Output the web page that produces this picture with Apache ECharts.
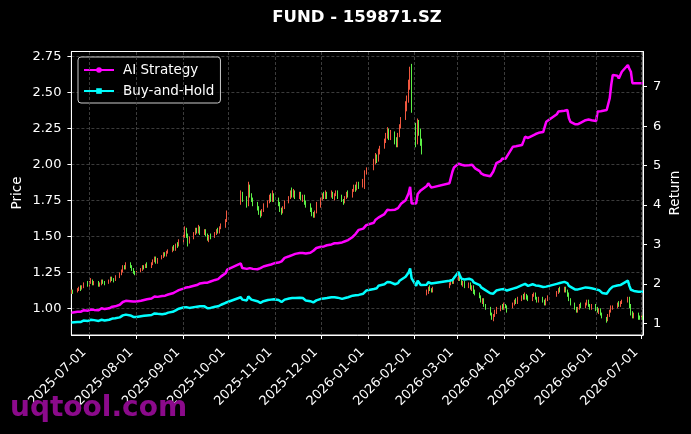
<!DOCTYPE html>
<html><head><meta charset="utf-8">
<script src="https://cdn.jsdelivr.net/npm/echarts@6/dist/echarts.min.js"></script>
<style>html,body{margin:0;padding:0;background:#000}#c{width:691px;height:434px}</style>
</head><body><div id="c"></div>
<script>
// ---------- data ----------
const startDate = '2025-06-19';
const endDate = '2026-07-02';
const holidays = ['2025-10-01','2025-10-02','2025-10-03','2025-10-06','2025-10-07','2025-10-08',
  '2026-01-01','2026-01-02','2026-02-16','2026-02-17','2026-02-18','2026-02-19','2026-02-20','2026-02-23',
  '2026-04-06','2026-05-01','2026-05-04','2026-05-05','2026-06-19'];
const monthTicks = ['2025-07-01','2025-08-01','2025-09-01','2025-10-01','2025-11-01','2025-12-01',
  '2026-01-01','2026-02-01','2026-03-01','2026-04-01','2026-05-01','2026-06-01','2026-07-01'];
const priceTicks = [1.00,1.25,1.50,1.75,2.00,2.25,2.50,2.75];
const returnTicks = [1,2,3,4,5,6,7];

// [open, close, low, high]
const candles = [
 [1.11,1.12,1.10,1.13],[1.12,1.11,1.10,1.13],[1.11,1.13,1.11,1.14],[1.13,1.14,1.12,1.15],[1.14,1.13,1.12,1.16],[1.13,1.15,1.13,1.16],[1.15,1.17,1.14,1.18],[1.17,1.16,1.15,1.19],
 [1.16,1.18,1.15,1.19],[1.18,1.19,1.17,1.21],[1.19,1.17,1.16,1.20],[1.17,1.18,1.16,1.19],
 [1.18,1.16,1.15,1.19],[1.16,1.17,1.15,1.18],[1.17,1.19,1.16,1.20],[1.19,1.18,1.17,1.20],[1.18,1.17,1.16,1.19],
 [1.17,1.19,1.17,1.20],[1.19,1.21,1.18,1.22],[1.21,1.20,1.19,1.22],[1.20,1.19,1.18,1.21],[1.19,1.21,1.19,1.23],
 [1.21,1.24,1.21,1.25],[1.24,1.26,1.23,1.27],[1.26,1.29,1.25,1.30],[1.29,1.28,1.27,1.30],[1.28,1.31,1.27,1.32],
 [1.31,1.29,1.28,1.32],[1.29,1.27,1.26,1.30],[1.27,1.25,1.24,1.28],[1.25,1.24,1.23,1.26],
 [1.24,1.25,1.23,1.26],
 [1.25,1.27,1.25,1.28],[1.27,1.29,1.26,1.30],[1.29,1.28,1.27,1.30],[1.28,1.30,1.28,1.31],[1.30,1.29,1.28,1.32],
 [1.29,1.31,1.28,1.32],[1.31,1.33,1.30,1.34],[1.33,1.35,1.32,1.36],[1.35,1.32,1.31,1.36],[1.32,1.34,1.31,1.35],
 [1.34,1.36,1.34,1.37],[1.36,1.38,1.35,1.39],[1.38,1.37,1.36,1.39],[1.37,1.39,1.36,1.40],[1.39,1.40,1.38,1.41],
 [1.40,1.42,1.39,1.43],[1.42,1.41,1.40,1.44],[1.41,1.44,1.40,1.45],[1.44,1.43,1.42,1.46],[1.43,1.46,1.43,1.48],
 [1.46,1.50,1.45,1.51],[1.50,1.55,1.49,1.57],[1.55,1.51,1.49,1.56],[1.51,1.46,1.43,1.52],[1.46,1.49,1.45,1.50],
 [1.49,1.52,1.48,1.53],[1.52,1.55,1.51,1.56],[1.55,1.53,1.52,1.56],[1.53,1.56,1.52,1.58],[1.56,1.52,1.51,1.57],
 [1.52,1.54,1.51,1.55],[1.54,1.51,1.50,1.55],[1.51,1.48,1.47,1.52],[1.48,1.50,1.46,1.51],[1.50,1.49,1.48,1.52],
 [1.49,1.52,1.49,1.53],[1.52,1.54,1.51,1.55],[1.54,1.53,1.52,1.56],[1.53,1.56,1.52,1.57],[1.56,1.57,1.55,1.59],
 [1.57,1.61,1.56,1.62],[1.61,1.66,1.60,1.68],
 [1.74,1.80,1.72,1.82],[1.80,1.76,1.74,1.81],
 [1.75,1.72,1.70,1.78],[1.72,1.85,1.71,1.88],[1.85,1.79,1.77,1.86],[1.79,1.76,1.74,1.80],[1.76,1.74,1.71,1.77],
 [1.74,1.70,1.68,1.74],[1.70,1.67,1.65,1.71],[1.67,1.65,1.63,1.68],[1.65,1.68,1.64,1.69],[1.68,1.70,1.67,1.73],
 [1.70,1.74,1.70,1.75],[1.74,1.77,1.73,1.79],[1.77,1.75,1.74,1.80],[1.75,1.79,1.74,1.82],[1.79,1.76,1.74,1.80],
 [1.76,1.73,1.71,1.77],[1.73,1.69,1.67,1.74],[1.69,1.66,1.65,1.70],[1.66,1.70,1.66,1.71],[1.70,1.73,1.69,1.75],
 [1.73,1.77,1.73,1.78],[1.77,1.80,1.76,1.82],[1.80,1.78,1.77,1.84],[1.78,1.81,1.77,1.83],[1.81,1.78,1.76,1.82],
 [1.78,1.80,1.76,1.81],[1.80,1.76,1.75,1.81],[1.76,1.78,1.74,1.79],[1.78,1.74,1.72,1.79],[1.74,1.72,1.70,1.75],
 [1.72,1.69,1.67,1.73],[1.69,1.66,1.64,1.70],[1.66,1.64,1.63,1.67],[1.64,1.67,1.63,1.68],[1.67,1.71,1.66,1.74],
 [1.71,1.76,1.70,1.77],[1.76,1.79,1.75,1.80],[1.79,1.77,1.76,1.81],[1.77,1.80,1.76,1.82],[1.80,1.78,1.76,1.81],
 [1.78,1.80,1.77,1.82],[1.80,1.77,1.76,1.81],[1.77,1.79,1.75,1.80],[1.79,1.81,1.78,1.82],[1.81,1.78,1.76,1.82],
 [1.78,1.75,1.74,1.79],[1.75,1.73,1.72,1.76],[1.73,1.77,1.73,1.78],[1.77,1.80,1.76,1.81],[1.80,1.78,1.77,1.82],
 [1.78,1.82,1.77,1.83],[1.82,1.84,1.81,1.86],[1.84,1.83,1.81,1.86],[1.83,1.86,1.82,1.88],[1.86,1.85,1.83,1.88],
 [1.85,1.88,1.84,1.90],[1.86,1.95,1.83,1.96],[1.95,1.97,1.93,1.98],
 [1.97,2.02,1.96,2.04],[2.02,2.06,2.00,2.08],[2.06,2.03,2.01,2.07],[2.03,2.09,2.02,2.11],[2.09,2.12,2.07,2.13],
 [2.12,2.16,2.11,2.18],[2.16,2.20,2.15,2.22],[2.20,2.24,2.18,2.26],[2.24,2.19,2.17,2.25],[2.19,2.22,2.17,2.24],
 [2.22,2.17,2.14,2.23],[2.17,2.13,2.12,2.19],[2.13,2.20,2.12,2.22],[2.20,2.27,2.19,2.28],[2.27,2.31,2.25,2.33],
 [2.33,2.42,2.31,2.44],[2.40,2.46,2.37,2.48],[2.46,2.55,2.43,2.59],[2.55,2.64,2.52,2.68],[2.66,2.38,2.36,2.70],
 [2.27,2.14,2.12,2.29],[2.15,2.29,2.14,2.32],[2.29,2.24,2.20,2.31],[2.24,2.16,2.13,2.25],[2.16,2.09,2.07,2.18],
 [1.10,1.11,1.09,1.13],[1.11,1.14,1.10,1.15],[1.14,1.13,1.12,1.16],[1.13,1.12,1.11,1.14],[1.12,1.14,1.11,1.15],
 [1.15,1.17,1.14,1.18],[1.17,1.19,1.16,1.20],[1.19,1.18,1.17,1.21],[1.18,1.20,1.17,1.22],
 [1.20,1.23,1.19,1.24],[1.23,1.20,1.19,1.24],[1.20,1.17,1.16,1.21],[1.17,1.18,1.15,1.19],[1.18,1.16,1.14,1.19],
 [1.16,1.17,1.14,1.18],[1.17,1.14,1.13,1.18],[1.14,1.15,1.12,1.16],[1.15,1.12,1.10,1.16],[1.12,1.11,1.09,1.13],
 [1.11,1.08,1.07,1.11],[1.08,1.05,1.04,1.09],[1.05,1.06,1.03,1.07],[1.06,1.02,1.01,1.07],[1.02,1.00,0.99,1.03],
 [1.00,0.96,0.95,1.01],[0.96,0.93,0.92,0.97],[0.93,0.95,0.91,0.96],[0.95,0.97,0.94,0.99],[0.97,0.99,0.96,1.01],
 [0.99,1.01,0.98,1.02],[1.01,1.00,0.99,1.03],
 [1.00,1.02,0.99,1.04],[1.02,1.01,1.00,1.03],[1.01,0.99,0.97,1.02],
 [1.00,1.03,1.00,1.04],[1.03,1.05,1.02,1.06],[1.05,1.04,1.03,1.07],[1.04,1.06,1.03,1.08],
 [1.06,1.08,1.05,1.09],[1.08,1.07,1.06,1.10],[1.07,1.09,1.06,1.11],[1.09,1.08,1.06,1.10],[1.08,1.06,1.05,1.09],
 [1.06,1.09,1.05,1.10],[1.09,1.10,1.08,1.11],[1.10,1.07,1.06,1.11],[1.07,1.05,1.04,1.08],[1.05,1.07,1.04,1.08],
 [1.07,1.05,1.04,1.08],[1.05,1.03,1.02,1.06],[1.03,1.06,1.02,1.07],[1.06,1.08,1.05,1.09],
 [1.09,1.11,1.08,1.12],[1.11,1.13,1.10,1.14],[1.13,1.12,1.11,1.15],
 [1.12,1.14,1.11,1.15],[1.14,1.12,1.11,1.15],[1.12,1.10,1.08,1.13],[1.10,1.06,1.05,1.11],[1.06,1.03,1.02,1.07],
 [1.03,1.00,0.99,1.04],[1.00,0.98,0.97,1.01],[0.98,1.00,0.97,1.01],[1.00,1.02,0.99,1.03],[1.02,1.01,1.00,1.04],
 [1.01,1.03,1.00,1.04],[1.03,1.05,1.02,1.06],[1.05,1.02,1.01,1.06],[1.02,1.00,0.99,1.03],[1.00,1.02,0.99,1.03],
 [1.02,1.00,0.98,1.03],[1.00,0.98,0.97,1.01],[0.98,0.99,0.96,1.00],[0.99,0.96,0.95,1.00],[0.96,0.94,0.93,0.97],
 [0.93,0.92,0.90,0.94],[0.92,0.95,0.91,0.96],[0.95,0.98,0.94,0.99],[0.98,1.00,0.97,1.02],[1.00,1.01,0.99,1.02],
 [1.01,1.03,1.00,1.04],[1.03,1.02,1.01,1.05],[1.02,1.04,1.01,1.05],[1.04,1.05,1.03,1.06],
 [1.05,1.07,1.04,1.08],[1.07,1.02,1.00,1.08],[1.02,0.97,0.95,1.03],[0.97,0.95,0.93,0.98],[0.95,0.96,0.93,0.97],
 [0.96,0.94,0.92,0.97],[0.94,0.93,0.92,0.95],
 [0.93,0.94,0.92,0.95],[0.94,0.93,0.92,0.95]
];

const aiStrategy = [
 1.27,1.27,1.29,1.30,1.29,1.31,1.33,1.32,
 1.34,1.35,1.33,1.34, 1.33,1.35,1.38,1.37,1.36, 1.38,1.41,1.42,1.41,1.43, 1.47,1.50,1.54,1.53,1.57, 1.56,1.55,1.55,1.55,
 1.55, 1.57,1.60,1.59,1.62,1.61, 1.63,1.65,1.68,1.65,1.67, 1.69,1.71,1.70,1.72,1.73, 1.76,1.75,1.80,1.79,1.84,
 1.88,1.93,1.91,1.90,1.92, 1.95,1.98,1.97,2.00,2.01, 2.03,2.03,2.03,2.05,2.06, 2.10,2.13,2.12,2.17,2.19, 2.27,2.36,
 2.52,2.40, 2.38,2.42,2.40,2.39,2.38, 2.37,2.38,2.40,2.42,2.44, 2.47,2.50,2.49,2.53,2.52,
 2.54,2.55,2.57,2.62,2.66, 2.70,2.74,2.73,2.78,2.76, 2.78,2.76,2.78,2.77,2.77, 2.79,2.82,2.84,2.87,2.91,
 2.94,2.97,2.95,2.99,2.98, 3.00,2.99,3.03,3.05,3.03, 3.05,3.05,3.08,3.12,3.11, 3.19,3.24,3.27,3.32,3.37, 3.40,3.45,3.49,
 3.55,3.62,3.60,3.68,3.72, 3.77,3.82,3.88,3.85,3.87, 3.88,3.90,3.92,3.97,4.03, 4.12,4.16,4.30,4.46,4.04,
 4.04,4.28,4.32,4.37,4.42, 4.48,4.55,4.50,4.44,4.46, 4.55,4.70,4.85,4.95,
 5.05,5.04,5.02,5.03,5.00, 5.01,4.99,5.02,4.97,4.93, 4.86,4.80,4.78,4.76,4.74, 4.73,4.72,4.85,4.95,5.06, 5.12,5.18,
 5.18,5.17,5.18, 5.48,5.50,5.49,5.52, 5.52,5.62,5.73,5.71,5.70, 5.76,5.79,5.80,5.82,5.83, 5.85,5.86,6.11,6.15,
 6.30,6.37,6.38, 6.39,6.40,6.41,6.20,6.11, 6.05,6.03,6.05,6.10,6.09, 6.15,6.20,6.17,6.13,6.15,
 6.13,6.37,6.38,6.38,6.39, 6.41,6.45,6.71,7.05,7.30, 7.28,7.21,7.25,7.38, 7.55,7.45,7.38,7.09,7.09, 7.09,7.09,
 7.09,7.09
];

const buyHold = [
 1.02,1.01,1.03,1.04,1.03,1.05,1.07,1.06,
 1.08,1.09,1.07,1.08, 1.06,1.07,1.09,1.08,1.07, 1.09,1.11,1.12,1.11,1.13, 1.15,1.17,1.20,1.19,1.22, 1.20,1.18,1.16,1.15,
 1.16, 1.18,1.20,1.19,1.21,1.20, 1.21,1.23,1.25,1.22,1.24, 1.23,1.25,1.24,1.25,1.27, 1.29,1.28,1.33,1.34,1.37,
 1.40,1.44,1.41,1.36,1.39, 1.41,1.44,1.42,1.45,1.43, 1.43,1.41,1.38,1.40,1.39, 1.42,1.44,1.43,1.46,1.47, 1.52,1.57,
 1.66,1.60, 1.58,1.68,1.63,1.60,1.59, 1.56,1.53,1.52,1.54,1.56, 1.59,1.62,1.60,1.64,1.61,
 1.59,1.56,1.54,1.57,1.60, 1.63,1.66,1.64,1.66,1.64, 1.65,1.62,1.64,1.60,1.58, 1.56,1.54,1.53,1.55,1.58,
 1.62,1.65,1.63,1.66,1.64, 1.66,1.64,1.66,1.68,1.65, 1.62,1.60,1.64,1.67,1.66, 1.70,1.72,1.71,1.73,1.72, 1.75,1.80,1.83,
 1.87,1.91,1.89,1.95,1.97, 1.99,2.02,2.05,2.01,2.04, 1.99,1.96,2.02,2.08,2.12, 2.18,2.21,2.29,2.39,2.14,
 1.95,2.08,2.04,1.97,1.92, 1.98,2.04,2.03,2.01,2.04, 2.08,2.12,2.10,2.14,
 2.30,2.20,2.13,2.15,2.11, 2.13,2.08,2.10,2.04,2.02, 1.97,1.91,1.93,1.86,1.82, 1.76,1.72,1.75,1.79,1.83, 1.86,1.85,
 1.87,1.86,1.83, 1.88,1.92,1.90,1.94, 1.97,1.96,2.00,1.98,1.95, 1.99,2.01,1.96,1.92,1.95, 1.92,1.89,1.93,1.97,
 2.00,2.03,2.02, 2.05,2.04,2.02,1.95,1.90, 1.86,1.83,1.86,1.89,1.88, 1.91,1.94,1.90,1.87,1.89,
 1.86,1.83,1.84,1.80,1.77, 1.75,1.80,1.86,1.91,1.93, 1.96,1.95,1.97,1.99, 2.08,1.95,1.85,1.81,1.82, 1.80,1.79,
 1.80,1.80
];

// ---------- trading calendar (weekdays minus exchange holidays) ----------
function pad(n){return (n<10?'0':'')+n;}
function fmt(d){return d.getFullYear()+'-'+pad(d.getMonth()+1)+'-'+pad(d.getDate());}
function parseLocal(s){const p=s.split('-');return new Date(+p[0],+p[1]-1,+p[2]);}
function ts(s){return parseLocal(s).getTime();}
const dates=[];
for(let d=parseLocal(startDate); d<=parseLocal(endDate); d.setDate(d.getDate()+1)){
  const wd=d.getDay(); if(wd===0||wd===6) continue;
  const s=fmt(d); if(holidays.indexOf(s)>=0) continue;
  dates.push(s);
}

const candleData = dates.map((d,i)=>[ts(d)].concat(candles[i]));
const aiData = dates.map((d,i)=>[ts(d), aiStrategy[i]]);
const bhData = dates.map((d,i)=>[ts(d), buyHold[i]]);
const monthTickTs = monthTicks.map(ts);

// ---------- chart ----------
const FONT='DejaVu Sans';
const RED='#f0573f', GREEN='#5cf046';
const GL=71.4, GT=51.5, GW=571.6, GH=283.5;
const chart=echarts.init(document.getElementById('c'),null,{renderer:'canvas'});
const splitStyle={color:'#4a4a4a',type:[3,2],width:0.8};
chart.setOption({
  backgroundColor:'#000',
  animation:false,
  textStyle:{fontFamily:FONT},
  grid:{left:GL,top:GT,width:GW,height:GH,show:true,borderColor:'#ffffff',borderWidth:1,backgroundColor:'transparent'},
  legend:{
    orient:'vertical',left:78,top:57,data:['AI Strategy','Buy-and-Hold'],
    itemWidth:30,itemHeight:7,itemGap:5,padding:[5,6,4,5],
    backgroundColor:'rgba(0,0,0,0.8)',borderColor:'#cccccc',borderWidth:1,borderRadius:3,
    textStyle:{color:'#ffffff',fontSize:13.5,fontFamily:FONT,lineHeight:16,padding:[0,0,0,4]},
    selectedMode:false
  },
  xAxis:{
    type:'value',min:ts(startDate),max:ts(endDate),
    axisLine:{show:true,lineStyle:{color:'#ffffff',width:1}},
    axisTick:{show:true,length:4,lineStyle:{color:'#ffffff'},customValues:monthTickTs},
    axisLabel:{customValues:monthTickTs,rotate:45,color:'#ffffff',fontSize:13,fontFamily:FONT,margin:10,padding:[0,7.5,0,0],
      formatter:function(v){return fmt(new Date(v));}},
    splitLine:{show:false}
  },
  yAxis:[
    {type:'value',position:'left',min:0.8143,max:2.786,minInterval:0.25,maxInterval:0.25,
     axisLine:{show:true,lineStyle:{color:'#ffffff'}},
     axisTick:{show:true,length:4,lineStyle:{color:'#ffffff'},customValues:priceTicks},
     axisLabel:{customValues:priceTicks,color:'#ffffff',fontSize:13,fontFamily:FONT,margin:10,formatter:v=>v.toFixed(2)},
     splitLine:{show:true,lineStyle:splitStyle}},
    {type:'value',position:'right',min:0.703,max:7.893,minInterval:1,maxInterval:1,
     axisLine:{show:true,lineStyle:{color:'#ffffff'}},
     axisTick:{show:true,length:4,lineStyle:{color:'#ffffff'},customValues:returnTicks},
     axisLabel:{customValues:returnTicks,color:'#ffffff',fontSize:13,fontFamily:FONT,margin:10,formatter:v=>String(Math.round(v))},
     splitLine:{show:false}}
  ],
  series:[
    {type:'candlestick',name:'Price',xAxisIndex:0,yAxisIndex:0,data:candleData,barWidth:1.2,z:2,
     itemStyle:{color:RED,color0:GREEN,borderColor:RED,borderColor0:GREEN,borderWidth:1},
     markLine:{silent:true,symbol:['none','none'],label:{show:false},animation:false,
       lineStyle:splitStyle,emphasis:{disabled:true},
       data:monthTickTs.map(v=>({xAxis:v}))}},
    {type:'line',name:'AI Strategy',xAxisIndex:0,yAxisIndex:1,data:aiData,showSymbol:false,symbol:'circle',z:4,
     itemStyle:{color:'#ff00ff'},lineStyle:{color:'#ff00ff',width:2.5}},
    {type:'line',name:'Buy-and-Hold',xAxisIndex:0,yAxisIndex:1,data:bhData,showSymbol:false,symbol:'rect',z:3,
     itemStyle:{color:'#00ffff'},lineStyle:{color:'#00ffff',width:2.5}}
  ],
  graphic:[
    {type:'text',x:357,y:17.5,z:100,style:{text:'FUND - 159871.SZ',fill:'#ffffff',fontSize:16.5,fontWeight:'bold',fontFamily:FONT,align:'center',verticalAlign:'middle'}},
    {type:'text',x:17,y:193,rotation:Math.PI/2,z:100,style:{text:'Price',fill:'#ffffff',fontSize:13.5,fontFamily:FONT,align:'center',verticalAlign:'middle'}},
    {type:'text',x:675,y:193,rotation:Math.PI/2,z:100,style:{text:'Return',fill:'#ffffff',fontSize:13.5,fontFamily:FONT,align:'center',verticalAlign:'middle'}},
    {type:'text',x:10,y:409,z:100,style:{text:'uqtool.com',fill:'#8b0a8b',fontSize:28,fontWeight:'bold',fontFamily:FONT,align:'left',verticalAlign:'middle'}}
  ]
});
</script></body></html>
